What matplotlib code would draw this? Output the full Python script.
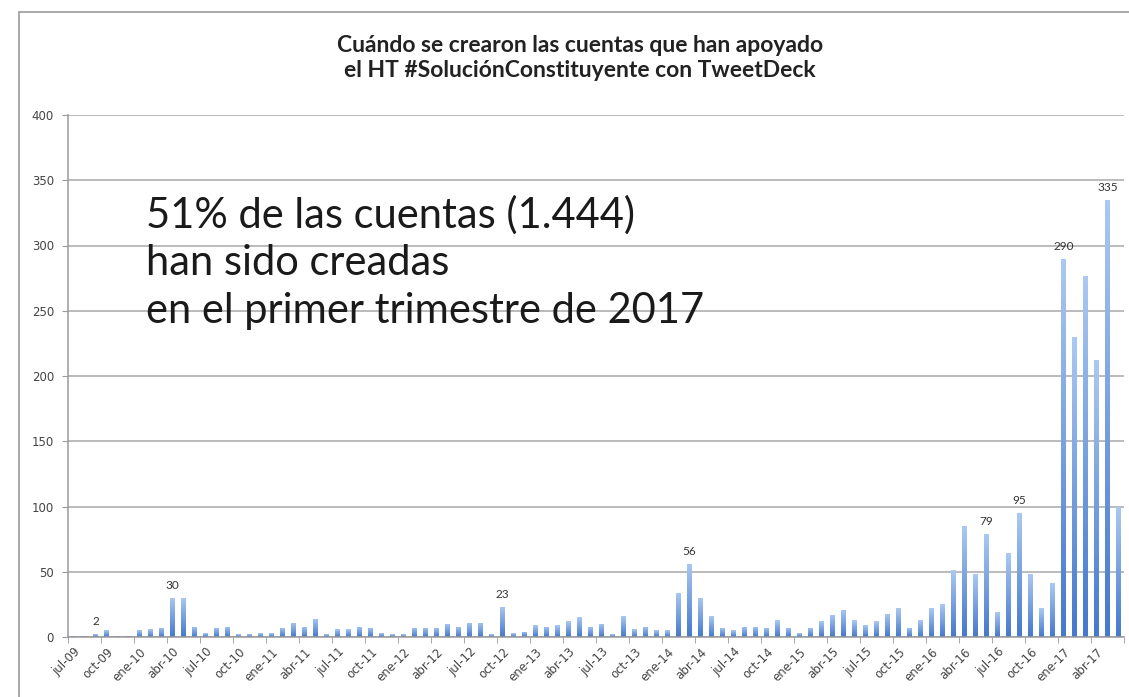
import matplotlib
matplotlib.use("Agg")
import matplotlib.pyplot as plt
from matplotlib.patches import Rectangle
from matplotlib.colors import LinearSegmentedColormap
import numpy as np

# monthly counts, jul-09 .. jun-17
counts = [1, 1, 2, 5, 1, 1, 5, 6, 7, 30,
          30, 8, 3, 7, 8, 2, 2, 3, 3, 7,
          11, 8, 14, 2, 6, 6, 8, 7, 3, 2,
          2, 7, 7, 7, 10, 8, 11, 11, 2, 23,
          3, 4, 9, 8, 9, 12, 15, 8, 10, 2,
          16, 6, 8, 5, 5, 34, 56, 30, 16, 7,
          5, 8, 8, 7, 13, 7, 3, 7, 12, 17,
          21, 13, 9, 12, 18, 22, 7, 13, 22, 25,
          51, 85, 48, 79, 19, 64, 95, 48, 22, 41,
          290, 230, 277, 212, 335, 100]

tick_labels = ["jul-09", "oct-09", "ene-10", "abr-10", "jul-10", "oct-10",
               "ene-11", "abr-11", "jul-11", "oct-11", "ene-12", "abr-12",
               "jul-12", "oct-12", "ene-13", "abr-13", "jul-13", "oct-13",
               "ene-14", "abr-14", "jul-14", "oct-14", "ene-15", "abr-15",
               "jul-15", "oct-15", "ene-16", "abr-16", "jul-16", "oct-16",
               "ene-17", "abr-17"]

labelled = [2, 9, 39, 56, 83, 86, 90, 94]

title = "Cuándo se crearon las cuentas que han apoyado\nel HT #SoluciónConstituyente con TweetDeck"
note = ["51% de las cuentas (1.444)", "han sido creadas",
        "en el primer trimestre de 2017"]

W, H = 1129, 697
fig = plt.figure(figsize=(W / 100, H / 100), dpi=100)
fig.patch.set_facecolor("white")

# outer chart frame
fig.patches.append(Rectangle((19 / W, -0.1), 1.2, 1.1 - 12 / H,
                             transform=fig.transFigure, fill=False,
                             edgecolor="#9a9a9a", lw=1.2))

ax = fig.add_axes([68 / W, 1 - 637 / H, (1124 - 68) / W, (637 - 115) / H])
x = np.arange(len(counts))
bars = ax.bar(x, counts, width=0.42, color="#6f9fe0", edgecolor="none",
              zorder=3)

# excel-like vertical fade on each bar
fade = LinearSegmentedColormap.from_list("fade", ["#4579cc", "#aac8f2"])
grad = np.linspace(0, 1, 64).reshape(-1, 1)
for b in bars:
    x0, w, h = b.get_x(), b.get_width(), b.get_height()
    im = ax.imshow(grad, extent=[x0, x0 + w, 0, h], origin="lower",
                   aspect="auto", cmap=fade, zorder=3.5)
    im.set_clip_path(b)

ax.set_xlim(-0.5, len(counts) - 0.5)
ax.set_ylim(0, 400)
ax.set_aspect("auto")
ax.set_yticks(np.arange(0, 401, 50))
ax.yaxis.grid(True, color="#a8a8a8", lw=1.1, zorder=0)
ax.tick_params(axis="y", labelsize=8.5, labelcolor="#444444", length=4,
               color="#9a9a9a", pad=6)

ax.set_xticks(np.arange(0, len(counts), 3))
ax.set_xticklabels(tick_labels, rotation=45, ha="right",
                   rotation_mode="anchor", fontsize=8.5, color="#444444")
ax.tick_params(axis="x", which="major", length=0, pad=6)
ax.set_xticks(np.arange(-0.5, len(counts), 3), minor=True)
ax.tick_params(axis="x", which="minor", length=4, color="#9a9a9a")

for s in ["top", "right"]:
    ax.spines[s].set_visible(False)
for s in ["left", "bottom"]:
    ax.spines[s].set_color("#9a9a9a")
    ax.spines[s].set_linewidth(1.1)
    ax.spines[s].set_zorder(4)

for i in labelled:
    ax.annotate(str(counts[i]), (x[i], counts[i]), xytext=(0, 5),
                textcoords="offset points", ha="center", va="bottom",
                fontsize=8.5, color="#333333", fontfamily="Lato")

fig.text(580 / W, 1 - 58 / H, title, ha="center", va="center",
         fontsize=16.5, fontweight="bold", color="#222222",
         fontfamily="Lato", linespacing=1.2)

for k, line in enumerate(note):
    fig.text(146 / W, 1 - (215 + 48 * k) / H, line, ha="left", va="center",
             fontsize=30, color="#1a1a1a", fontfamily="Lato")

fig.savefig("out.png", dpi=100, facecolor="white")
